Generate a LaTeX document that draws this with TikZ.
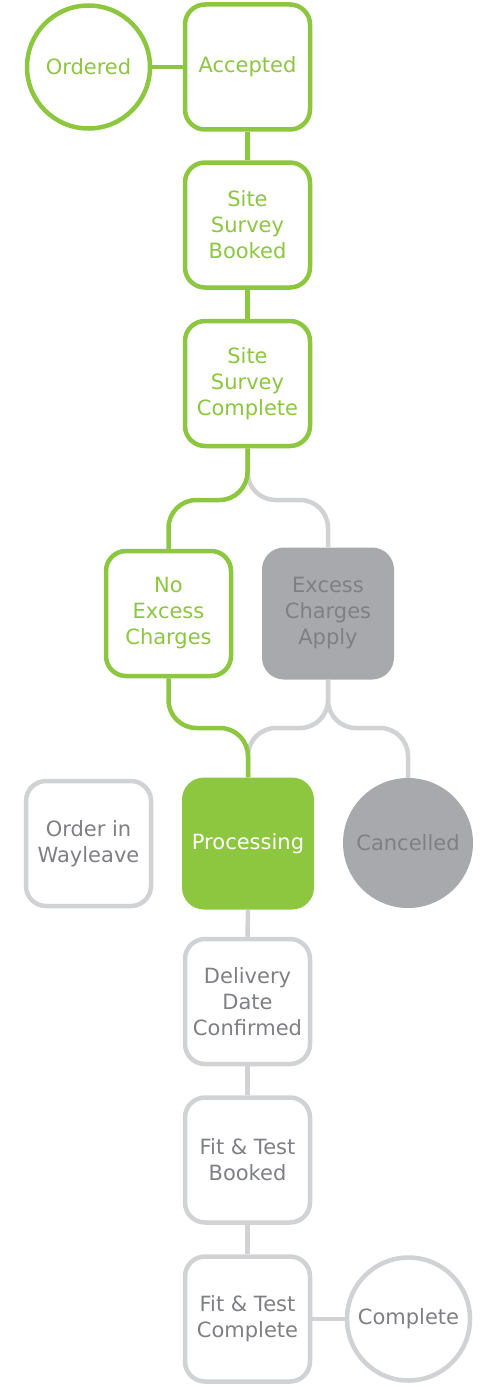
\documentclass[tikz,border=0pt]{standalone}
\usepackage{fontspec}
\setmainfont{DejaVu Sans}
\definecolor{grn}{HTML}{8DC63F}
\definecolor{lgr}{HTML}{D1D2D4}
\definecolor{dgr}{HTML}{A7A9AC}
\definecolor{txg}{HTML}{7F8084}
\begin{document}
\begin{tikzpicture}[x=1pt,y=-1pt,
  base/.style={align=center, font=\fontsize{21}{26}\selectfont, inner sep=0pt},
  box/.style={base, rectangle, rounded corners=20pt, minimum width=125pt, minimum height=125pt, line width=4.5pt, fill=white},
  gbox/.style={box, draw=grn, text=grn},
  wbox/.style={box, draw=lgr, text=txg},
  fbox/.style={base, rectangle, rounded corners=22pt, minimum width=132pt, minimum height=132pt},
  gcirc/.style={base, circle, minimum size=123pt, line width=4.5pt, fill=white},
  gline/.style={draw=grn, line width=4.5pt, rounded corners=28pt},
  wline/.style={draw=lgr, line width=4.5pt, rounded corners=28pt}
]
\useasboundingbox (0,0) rectangle (500,1386);
\node[gcirc, draw=grn, text=grn] (ord) at (88.5,67) {Ordered};
\node[gbox] (acc) at (247.5,67) {Accepted};
\node[gbox] (ssb) at (247.5,225) {Site\\Survey\\Booked};
\node[gbox] (ssc) at (247.5,383.5) {Site\\Survey\\Complete};
\node[gbox] (nec) at (168.5,613.5) {No\\Excess\\Charges};
\node[fbox, fill=dgr, text=txg] (eca) at (328,613.5) {Excess\\Charges\\Apply};
\node[wbox] (wl) at (88.5,843.5) {Order in\\Wayleave};
\node[fbox, fill=grn, text=white] (proc) at (248,843.5) {Processing};
\node[base, circle, minimum size=130pt, fill=dgr, text=txg] (canc) at (408,843) {Cancelled};
\node[wbox] (ddc) at (247.5,1001.5) {Delivery\\Date\\Confirmed};
\node[wbox] (ftb) at (247.5,1160) {Fit \& Test\\Booked};
\node[wbox] (ftc) at (247.5,1319) {Fit \& Test\\Complete};
\node[gcirc, draw=lgr, text=txg] (cmp) at (408.5,1319) {Complete};
\coordinate (j1) at (0,500);
\coordinate (j2) at (0,728);
% gray connectors first
\draw[wline] (ssc.south) |- (j1 -| eca.north) -- (eca.north);
\draw[wline] (eca.south) |- (j2 -| proc.north) -- (proc.north);
\draw[wline] (eca.south) |- (j2 -| canc.north) -- (canc.north);
\draw[wline] (proc.south) -- (ddc.north);
\draw[wline] (ddc.south) -- (ftb.north);
\draw[wline] (ftb.south) -- (ftc.north);
\draw[wline] (ftc.east) -- (cmp.west);
% green connectors
\draw[gline] (ord.east) -- (acc.west);
\draw[gline] (acc.south) -- (ssb.north);
\draw[gline] (ssb.south) -- (ssc.north);
\draw[gline] (ssc.south) |- (j1 -| nec.north) -- (nec.north);
\draw[gline] (nec.south) |- (j2 -| proc.north) -- (proc.north);
\end{tikzpicture}
\end{document}
